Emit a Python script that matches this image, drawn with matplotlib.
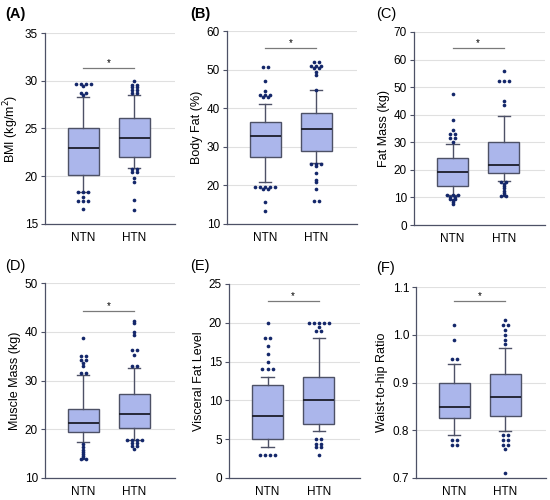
import matplotlib.pyplot as plt
from collections import Counter

plt.rcParams["font.family"] = ["Liberation Sans", "DejaVu Sans"]

groups = ["NTN", "HTN"]
panel_tags = ["(A)", "(B)", "(C)", "(D)", "(E)", "(F)"]
ylabels = ["BMI (kg/m$^2$)", "Body Fat (%)", "Fat Mass (kg)",
           "Muscle Mass (kg)", "Visceral Fat Level", "Waist-to-hip Ratio"]
yticks = [[15, 20, 25, 30, 35], [10, 20, 30, 40, 50, 60],
          [0, 10, 20, 30, 40, 50, 60, 70], [10, 20, 30, 40, 50],
          [0, 5, 10, 15, 20, 25], [0.7, 0.8, 0.9, 1.0, 1.1]]
sig_y = [31.3, 55.7, 64.2, 44.2, 22.85, 1.07]

# box stats per panel: [whislo, q1, median, q3, whishi] for NTN, HTN
bmi_box = [[18.4, 20.1, 22.95, 25.05, 28.3], [20.9, 22.0, 24.0, 26.1, 28.5]]
fat_pct_box = [[20.8, 27.3, 32.9, 36.5, 41.0], [25.8, 28.8, 34.6, 38.7, 44.6]]
fat_mass_box = [[11.0, 14.0, 19.2, 24.2, 29.3], [15.8, 18.8, 21.8, 30.0, 39.6]]
muscle_box = [[17.3, 19.4, 21.3, 24.1, 31.2], [17.8, 20.2, 23.1, 27.3, 32.6]]
visceral_box = [[4, 5, 8, 12, 13], [6, 7, 10, 13, 18]]
whr_box = [[0.79, 0.825, 0.849, 0.898, 0.938], [0.799, 0.83, 0.869, 0.918, 0.972]]

bmi_out = [[29.7, 29.7, 29.7, 29.7, 29.4, 28.7, 28.7, 28.5,
            18.4, 18.4, 18.4, 17.8, 17.4, 17.4, 17.4, 16.6],
           [30.0, 29.6, 29.6, 29.3, 29.3, 29.0, 29.0, 28.7, 28.7,
            20.8, 20.8, 20.4, 20.4, 19.8, 19.4, 17.5, 16.5]]
fat_pct_out = [[50.6, 50.6, 47.0, 44.5, 43.3, 43.3, 43.3, 42.8, 42.8,
                19.5, 19.5, 19.5, 19.5, 19.5, 19.0, 19.0, 15.8, 13.3],
               [52.0, 52.0, 51.0, 51.0, 51.0, 50.5, 50.5, 49.3, 48.7, 44.8,
                25.5, 25.5, 25.5, 25.0, 23.3, 21.5, 21.0, 19.0, 16.0, 16.0]]
fat_mass_out = [[47.5, 38.2, 34.6, 33.0, 33.0, 31.5, 31.5, 30.2,
                 10.8, 10.8, 10.8, 10.2, 10.2, 9.6, 9.6, 9.0, 8.5, 7.7],
                [55.7, 52.3, 52.3, 52.3, 45.0, 43.5,
                 15.5, 15.5, 15.0, 14.2, 13.5, 12.3, 11.7, 11.0, 10.5, 10.5]]
muscle_out = [[38.8, 35.0, 35.0, 34.3, 34.3, 33.6, 33.0, 31.5, 31.5,
               16.9, 16.4, 15.8, 15.3, 15.0, 14.6, 14.2, 14.0, 14.0],
              [42.2, 41.8, 40.0, 39.3, 36.3, 36.3, 35.3, 33.0, 33.0,
               17.7, 17.7, 17.7, 17.7, 17.2, 17.2, 16.5, 16.5, 16.0]]
visceral_out = [[20, 18, 18, 17, 16, 15, 14, 14, 14, 3, 3, 3, 3],
                [20, 20, 20, 20, 20, 19.5, 19, 19, 5, 5, 4.4, 4.4, 4, 4, 3]]
whr_out = [[1.02, 0.99, 0.95, 0.95, 0.78, 0.78, 0.77, 0.77],
           [1.03, 1.02, 1.02, 1.01, 1.00, 0.99, 0.98,
            0.79, 0.79, 0.78, 0.78, 0.77, 0.77, 0.76, 0.71]]

boxes = [bmi_box, fat_pct_box, fat_mass_box, muscle_box, visceral_box, whr_box]
outliers = [bmi_out, fat_pct_out, fat_mass_out, muscle_out, visceral_out, whr_out]

# axes boxes in pixels: left, top, right, bottom
frames = [(45, 33, 175, 224), (227, 31, 357, 224), (414, 32, 545, 225),
          (45, 283, 175, 478), (229, 284, 360, 478), (416, 287, 546, 478)]
tag_xy = [(5, 14), (190, 14), (376, 14), (5, 266), (190, 266), (376, 268)]

W, H = 550, 500
face = "#abb6eb"
edge = "#4d5166"
dot = "#14276a"


def dodge(vals, center, step=0.1):
    xs, ys = [], []
    for v, n in Counter(vals).items():
        for k in range(n):
            xs.append(center + (k - (n - 1) / 2) * step)
            ys.append(v)
    return xs, ys


fig = plt.figure(figsize=(5.5, 5), dpi=100)

for i in range(6):
    l, t, r, b = frames[i]
    ax = fig.add_axes([l / W, 1 - b / H, (r - l) / W, (b - t) / H])
    stats = []
    for g, s in zip(groups, boxes[i]):
        stats.append(dict(label=g, whislo=s[0], q1=s[1], med=s[2], q3=s[3], whishi=s[4]))
    ax.bxp(stats, positions=[1, 2], widths=0.6, capwidths=0.24, showfliers=False,
           patch_artist=True,
           boxprops=dict(facecolor=face, edgecolor=edge, linewidth=1.0),
           medianprops=dict(color="#1b1d2a", linewidth=1.3),
           whiskerprops=dict(color=edge, linewidth=1.0),
           capprops=dict(color=edge, linewidth=1.0), zorder=3)
    for j, vals in enumerate(outliers[i]):
        xs, ys = dodge(vals, j + 1)
        ax.scatter(xs, ys, s=7, color=dot, zorder=4, linewidths=0)

    ax.set_xlim(0.25, 2.8)
    yt = yticks[i]
    ax.set_ylim(yt[0], yt[-1])
    ax.set_yticks(yt)
    if i == 5:
        ax.set_yticklabels([f"{v:.1f}" for v in yt])
    ax.set_xticks([1, 2])
    ax.set_xticklabels(groups)
    ax.tick_params(axis="x", length=0, labelsize=8.5, pad=6)
    ax.tick_params(axis="y", length=3, color=edge, labelsize=8.5, pad=2)
    ax.yaxis.grid(True, color="#e0e0e0", linewidth=0.8, zorder=0)
    ax.set_axisbelow(True)
    for sp in ["top", "right"]:
        ax.spines[sp].set_visible(False)
    for sp in ["left", "bottom"]:
        ax.spines[sp].set_color(edge)
        ax.spines[sp].set_linewidth(0.9)
    ax.set_ylabel(ylabels[i], fontsize=9, labelpad=3)

    ax.plot([1, 2], [sig_y[i], sig_y[i]], color="#7a7a7a", linewidth=0.9)
    ax.text(1.5, sig_y[i], "*", ha="center", va="bottom", fontsize=7)

    tx, ty = tag_xy[i]
    fig.text(tx / W, 1 - ty / H, panel_tags[i], fontsize=10.5,
             fontweight="bold" if i < 2 else "normal", va="center")

fig.savefig("out.png", dpi=100)
